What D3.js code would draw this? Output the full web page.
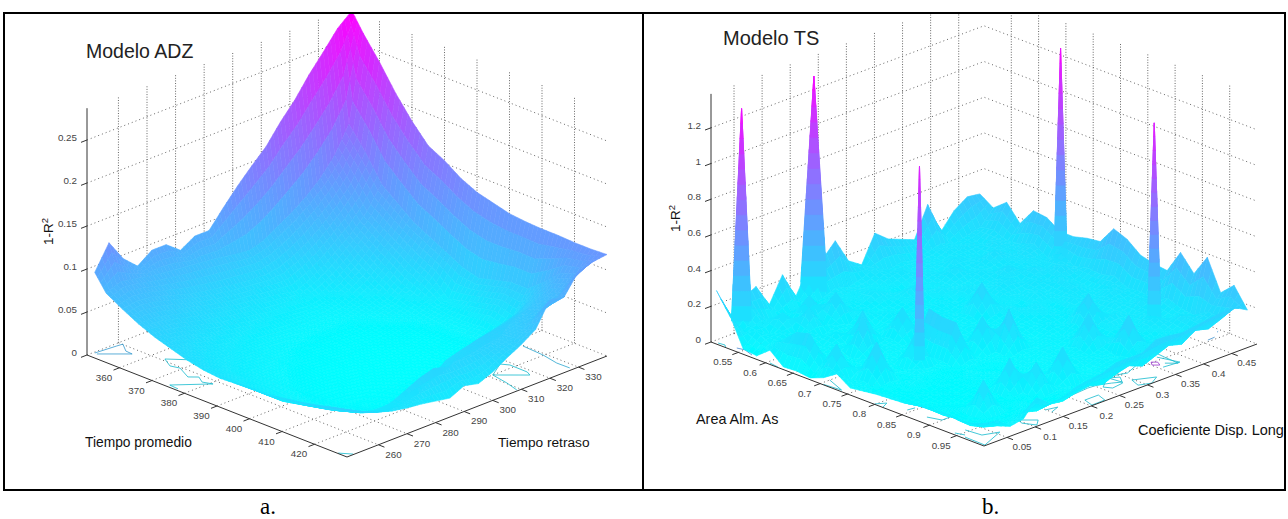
<!DOCTYPE html>
<html>
<head>
<meta charset="utf-8">
<script src="https://cdn.jsdelivr.net/npm/d3@7"></script>
<style>
    html, body { margin: 0; padding: 0; background: #fff; }
    svg { display: block; }
    text { font-family: "Liberation Sans", Arial, sans-serif; }
</style>
</head>
<body>
<div id="chart"></div>
<script>
//Data - Modelo ADZ
var adzPromedioTicks = [360, 370, 380, 390, 400, 410, 420];
var adzRetrasoTicks = [260, 270, 280, 290, 300, 310, 320, 330];
var adzZTicks = [0, 0.05, 0.1, 0.15, 0.2, 0.25];
var adzPromedioNodes = [351.5, 355, 360, 365, 370, 375, 380, 385, 390, 395, 400, 405, 410, 415, 420, 425, 430];
var adzRetrasoNodes = [250, 255, 260, 265, 270, 275, 280, 285, 290, 295, 300, 305, 310, 315, 320, 325, 330, 335, 340];
// rows follow Tiempo promedio, columns follow Tiempo retraso
var adzZ = [
    [.097, .125, .10, .085, .097, .097, .084, .094, .094, .114, .133, .15, .166, .188, .207, .23, .25, .271, .285],
    [.078, .085, .082, .078, .076, .074, .072, .07, .068, .065, .063, .068, .078, .088, .10, .115, .135, .165, .264],
    [.067, .07, .068, .063, .058, .053, .05, .047, .045, .043, .042, .045, .052, .062, .075, .09, .11, .14, .238],
    [.057, .058, .054, .05, .046, .042, .038, .035, .033, .03, .028, .024, .032, .042, .055, .068, .085, .11, .209],
    [.049, .047, .043, .038, .034, .03, .027, .024, .021, .019, .017, .016, .02, .028, .04, .055, .072, .095, .184],
    [.043, .038, .033, .028, .024, .02, .017, .015, .013, .012, .012, .012, .014, .019, .028, .042, .06, .08, .163],
    [.037, .032, .026, .022, .018, .015, .012, .01, .009, .008, .008, .008, .01, .014, .018, .03, .048, .07, .153],
    [.033, .027, .021, .017, .014, .011, .009, .007, .006, .005, .005, .005, .007, .01, .014, .022, .038, .06, .14],
    [.031, .024, .018, .013, .01, .008, .006, .005, .004, .003, .003, .003, .004, .007, .011, .017, .02, .05, .131],
    [.032, .021, .015, .011, .008, .006, .004, .003, .002, .002, .002, .003, .003, .005, .009, .014, .025, .045, .126],
    [.033, .02, .013, .009, .006, .004, .003, .002, .001, .001, .001, .002, .003, .004, .008, .014, .03, .05, .121],
    [.034, .02, .013, .008, .005, .003, .002, .001, .001, .001, .001, .001, .002, .004, .008, .016, .035, .055, .119],
    [.037, .024, .015, .009, .005, .003, .002, .002, .002, .002, .002, .003, .004, .006, .01, .012, .03, .055, .118],
    [.04, .028, .019, .012, .007, .004, .004, .004, .004, .006, .012, .022, .032, .036, .04, .045, .055, .07, .118],
    [.044, .032, .024, .016, .01, .006, .008, .012, .025, .038, .043, .047, .05, .052, .056, .062, .07, .088, .117],
    [.049, .038, .03, .026, .028, .036, .044, .049, .044, .046, .046, .05, .052, .056, .062, .07, .08, .095, .117],
    [.053, .045, .038, .033, .03, .028, .025, .022, .03, .026, .033, .043, .052, .063, .091, .088, .111, .116, .118]
];
var adzContours = [
    [[350.4, 251.3], [351, 258.3], [351.2, 260.2], [354.4, 257.6], [356.5, 257.4], [351.1, 251.2]],
    [[368.8, 266.1], [363.5, 260.9], [367, 258.7], [369.4, 259.5], [374.1, 256.9], [375.8, 258.8], [378.3, 257.1], [380.7, 258.2], [374.5, 250.1], [377.3, 249.8]],
    [[413.2, 329.7], [419.8, 329.2], [425.1, 328], [429, 328.1]],
    [[416.8, 317.6], [418.7, 318.9], [424.1, 318.8], [425.7, 317.9], [420, 311.4], [416.8, 317.6]],
    [[420, 311.4], [425.3, 310.3], [429.6, 308.9]],
    [[427.1, 249.2], [429.8, 251.4]]
];
var adzContourLevels = [0.25, 0.1, 0.2, 0.1, 0.1, 0.1];

//Data - Modelo TS
var tsAreaTicks = [0.55, 0.6, 0.65, 0.7, 0.75, 0.8, 0.85, 0.9, 0.95];
var tsCoefTicks = [0.05, 0.1, 0.15, 0.2, 0.25, 0.3, 0.35, 0.4, 0.45];
var tsZTicks = [0, 0.2, 0.4, 0.6, 0.8, 1, 1.2];
var tsAreaNodes = [0.51, 0.5345, 0.559, 0.5835, 0.608, 0.6325, 0.657, 0.6815, 0.706, 0.7305, 0.755, 0.7795, 0.804, 0.8285, 0.853, 0.8775, 0.902, 0.9265, 0.951, 0.9755, 1];
var tsCoefNodes = [0.009, 0.0325, 0.056, 0.0795, 0.103, 0.1265, 0.15, 0.1735, 0.197, 0.2205, 0.244, 0.2675, 0.291, 0.3145, 0.338, 0.3615, 0.385, 0.4085, 0.432, 0.4555, 0.478];
// rows follow Area Alm. As, columns follow Coeficiente Disp. Long
var tsZ = [
    [.30, .13, .20, .24, .11, .25, .10, .24, .25, .33, .19, .14, .29, .23, .20, .17, .34, .16, .25, .30, .29],
    [.19, .07, .14, .08, .08, .07, .07, .09, .12, .10, .12, .15, .11, .13, .11, .13, .15, .12, .14, .16, .24],
    [.03, .10, .06, .15, .07, .19, .08, .12, .09, .11, .09, .12, .14, .10, .12, .11, .13, .14, .12, .17, .30],
    [.02, .06, .09, .06, .18, .06, .21, .08, .09, .13, .10, .08, .11, .13, .10, .15, .12, .11, .16, .14, .21],
    [.08, .11, .05, .09, .05, .08, .06, .11, .07, .08, .11, .14, .09, .11, .16, .11, .13, .17, .13, .15, .31],
    [.015, .18, .06, .05, .10, .05, .07, .05, .10, .07, .09, .07, .12, .10, .11, .14, .11, .13, .15, .18, .30],
    [.02, .20, .04, .07, .04, .22, .05, .08, .06, .11, .07, .10, .08, .13, .10, .12, .17, .12, .14, .13, .25],
    [.01, .07, .04, .04, .24, .05, .07, .21, .06, .06, .09, .07, .10, .08, .12, .15, .11, .16, .13, .18, .25],
    [.04, .20, .03, .06, .04, .06, .05, .06, .05, .08, .06, .09, .24, .09, .11, .10, .14, .12, .17, .14, .27],
    [.09, .03, .08, .03, .05, .04, .06, .26, .06, .05, .08, .06, .09, .11, .08, .13, .11, .15, .12, .16, .28],
    [.04, .05, .24, .06, .03, .22, .05, .24, .05, .06, .05, .07, .06, .10, .12, .09, .11, .14, .11, .15, .38],
    [.05, .03, .05, .03, .06, .04, .05, .24, .04, .22, .06, .05, .08, .07, .10, .08, .13, .10, .12, .17, .35],
    [.06, .03, .03, .06, .03, .04, .03, .06, .04, .05, .26, .06, .05, .09, .07, .11, .09, .12, .15, .13, .29],
    [.065, .03, .04, .02, .04, .03, .05, .03, .04, .04, .06, .05, .07, .06, .10, .24, .08, .13, .11, .14, .27],
    [.07, .03, .02, .04, .02, .04, .04, .05, .03, .06, .04, .07, .05, .09, .07, .11, .13, .10, .15, .12, .26],
    [.085, .04, .03, .02, .04, .03, .04, .03, .05, .04, .06, .05, .08, .24, .07, .10, .08, .12, .11, .16, .39],
    [.09, .03, .04, .03, .02, .04, .21, .04, .03, .06, .04, .07, .06, .08, .11, .07, .11, .14, .10, .13, .30],
    [.10, .04, .02, .20, .04, .03, .05, .19, .04, .22, .05, .04, .07, .06, .26, .09, .08, .11, .15, .12, .42],
    [.09, .03, .04, .02, .03, .05, .02, .04, .05, .03, .05, .06, .05, .08, .07, .10, .12, .09, .14, .17, .25],
    [.10, .05, .03, .04, .05, .03, .04, .03, .05, .06, .04, .07, .09, .06, .09, .12, .10, .15, .13, .16, .32],
    [.118, .117, .056, .07, .16, .10, .106, .14, .15, .16, .19, .19, .19, .235, .23, .22, .23, .24, .25, .25, .21]
];
// the five tall narrow peaks
var tsPeakArea = [0.52, 0.511, 0.78, 0.667, 0.89];
var tsPeakCoef = [0.044, 0.1815, 0.108, 0.469, 0.419];
var tsPeakZ = [1.29, 1.30, 1.195, 1.30, 1.20];
var tsPeakBase = [0.018, 0.024, 0.009, 0.012, 0.012];
var tsContours = [
    [[.944, .03], [.9715, .033], [.9805, .056], [.9985, .012], [.961, .013]],
    [[.968, .101], [.986, .119], [.997, .106], [.979, .097], [.968, .101]],
    [[.968, .149], [.9725, .167], [.979, .15]],
    [[.957, .2], [.9535, .239], [.955, .255], [.963, .272], [.97, .284], [.9475, .281], [.943, .267]],
    [[.98, .208], [.98, .232], [.998, .226], [.9985, .2025], [.98, .208]],
    [[.942, .28], [.927, .313], [.929, .334], [.935, .354], [.953, .31], [.942, .28]],
    [[.974, .2975], [.989, .327], [.9995, .308], [.992, .291], [.974, .2975]],
    [[.915, .348], [.908, .385], [.948, .381], [.975, .379], [.963, .367]],
    [[.948, .357], [.954, .363], [.963, .358], [.956, .351], [.948, .357]],
    [[.946, .46], [.945, .473]],
    [[.935, .487], [.934, .49]],
    [[.509, .013], [.52, .0145], [.5255, .01]],
    [[.538, .018], [.55, .021], [.569, .015]],
    [[.6045, .0125], [.6215, .01]],
    [[.705, .01], [.735, .013], [.70, .026]],
    [[.799, .01], [.8076, .023], [.814, .01]],
    [[.843, .025], [.845, .037]],
    [[.878, .026], [.899, .0325], [.899, .047]],
    [[.942, .0135], [.956, .018]],
    [[.932, .246], [.927, .274], [.91, .315], [.915, .334], [.904, .362], [.915, .382], [.928, .357], [.928, .333]],
    [[.947, .28], [.956, .294], [.973, .282], [.976, .2615], [.965, .255], [.947, .28]],
    [[.941, .374], [.974, .383], [.971, .356]],
    [[.948, .177], [.94, .206], [.942, .227], [.962, .181], [.948, .177]]
];
var tsContourLevels = [.1, .1, .1, .1, .1, .1, .1, .1, .75, .3, .3, .1, .35, .1, .1, .1, .1, .1, .1, .1, .1, .1, .1];

//Setup
var width = 1288, height = 519;
var bands = 14; // slices per peak face, only for the colour ramp

var svg = d3.select("#chart").append("svg")
    .attr("width", width)
    .attr("height", height);

var defs = svg.append("defs");
defs.append("filter").attr("id", "soft")
    .append("feGaussianBlur").attr("stdDeviation", 0.45);

drawSurfacePanel({
    id: "adz",
    clip: [5, 14, 637, 475],
    origin: [87, 355],
    uDomain: [350, 430], uPx: [260, 102],
    vDomain: [249, 340], vPx: [260, -101],
    zPerUnit: 860, zTop: 0.287, colorMax: 0.285,
    uTicks: adzPromedioTicks, vTicks: adzRetrasoTicks, zTicks: adzZTicks,
    uNodes: adzPromedioNodes, vNodes: adzRetrasoNodes, z: adzZ,
    steps: 4,
    contours: adzContours, levels: adzContourLevels,
    peaks: []
});

drawSurfacePanel({
    id: "ts",
    clip: [645, 14, 640, 475],
    origin: [711, 342],
    uDomain: [0.5, 1], uPx: [273, 104],
    vDomain: [0.009, 0.495], vPx: [273, -102],
    zPerUnit: 178.5, zTop: 1.39, colorMax: 1.35,
    uTicks: tsAreaTicks, vTicks: tsCoefTicks, zTicks: tsZTicks,
    uNodes: tsAreaNodes, vNodes: tsCoefNodes, z: tsZ,
    steps: 3,
    contours: tsContours, levels: tsContourLevels,
    peaks: tsPeakArea.map(function (a, i) {
        return { u: a, v: tsPeakCoef[i], z: tsPeakZ[i], base: tsPeakBase[i] };
    })
});

//Frame
var frame = svg.append("g").attr("fill", "none").attr("stroke", "#000").attr("stroke-width", 2);
frame.append("rect").attr("x", 4).attr("y", 13).attr("width", 1281).attr("height", 477);
frame.append("line").attr("x1", 643).attr("x2", 643).attr("y1", 13).attr("y2", 490);

//Titles and captions
addText(86, 58, "Modelo ADZ", 19.5, "#222");
addText(723, 45, "Modelo TS", 20, "#222");
addText(85, 447, "Tiempo promedio", 13.8, "#111");
addText(498, 447, "Tiempo retraso", 13.7, "#111");
addText(696, 424, "Area Alm. As", 14.4, "#111");
addText(1138, 435, "Coeficiente Disp. Long", 14.5, "#111");
addZLabel(53, 245);
addZLabel(680, 232);
addText(260, 514, "a.", 23, "#000").style("font-family", "'Liberation Serif', serif");
addText(982, 514, "b.", 23, "#000").style("font-family", "'Liberation Serif', serif");

//Functions

function addText(x, y, label, size, color) {
    return svg.append("text")
        .attr("x", x).attr("y", y)
        .attr("font-size", size)
        .attr("fill", color)
        .text(label);
}

function addZLabel(x, y) {
    var t = svg.append("text")
        .attr("transform", `translate(${x}, ${y}) rotate(-90)`)
        .attr("font-size", 13.5)
        .attr("fill", "#111");
    t.append("tspan").text("1-R");
    t.append("tspan").attr("dy", -5).attr("font-size", 9.5).text("2");
}

function drawSurfacePanel(p) {
    var ux = d3.scaleLinear().domain(p.uDomain).range([0, p.uPx[0]]);
    var uy = d3.scaleLinear().domain(p.uDomain).range([0, p.uPx[1]]);
    var vx = d3.scaleLinear().domain(p.vDomain).range([0, p.vPx[0]]);
    var vy = d3.scaleLinear().domain(p.vDomain).range([0, p.vPx[1]]);
    var zy = d3.scaleLinear().domain([0, 1]).range([0, -p.zPerUnit]);
    var color = d3.scaleLinear().domain([0, p.colorMax]).range(["#00ffff", "#ff00ff"]).clamp(true);
    var uFrac = d3.scaleLinear().domain(p.uDomain).range([0, 1]);
    var vFrac = d3.scaleLinear().domain(p.vDomain).range([0, 1]);

    function proj(u, v, z) {
        return [p.origin[0] + ux(u) + vx(v), p.origin[1] + uy(u) + vy(v) + zy(z)];
    }
    function depth(u, v) { return uFrac(u) - vFrac(v); }

    var uMin = p.uDomain[0], uMax = p.uDomain[1], vMin = p.vDomain[0], vMax = p.vDomain[1];
    var line = d3.line();

    defs.append("clipPath").attr("id", "clip-" + p.id).append("rect")
        .attr("x", p.clip[0]).attr("y", p.clip[1])
        .attr("width", p.clip[2]).attr("height", p.clip[3]);
    var g = svg.append("g").attr("clip-path", `url(#clip-${p.id})`);

    //Grid on the floor and the two back walls
    var grid = [];
    p.uTicks.forEach(function (t) {
        grid.push({ dash: "1 3", pts: [proj(t, vMin, 0), proj(t, vMax, 0)] });
        grid.push({ dash: "1 1.6", pts: [proj(t, vMax, 0), proj(t, vMax, p.zTop)] });
    });
    p.vTicks.forEach(function (t) {
        grid.push({ dash: "1 3", pts: [proj(uMin, t, 0), proj(uMax, t, 0)] });
        grid.push({ dash: "1 1.6", pts: [proj(uMin, t, 0), proj(uMin, t, p.zTop)] });
    });
    p.zTicks.forEach(function (t) {
        grid.push({ dash: "1 3", pts: [proj(uMin, vMin, t), proj(uMin, vMax, t), proj(uMax, vMax, t)] });
    });
    g.append("g").selectAll("path").data(grid).join("path")
        .attr("d", d => line(d.pts))
        .attr("fill", "none")
        .attr("stroke", "#666")
        .attr("stroke-dasharray", d => d.dash);

    //Contours on the floor
    g.append("g").selectAll("path").data(p.contours).join("path")
        .attr("d", d => line(d.map(c => proj(c[0], c[1], 0))))
        .attr("fill", "none")
        .attr("stroke", (d, i) => d3.color(color(p.levels[i] * p.colorMax)).darker(0.6))
        .attr("stroke-opacity", 0.8)
        .attr("stroke-width", 1);

    //Axis lines and ticks
    var axes = g.append("g").attr("stroke", "#333").attr("fill", "none");
    axes.append("path").attr("d", line([proj(uMin, vMin, p.zTop), proj(uMin, vMin, 0), proj(uMax, vMin, 0), proj(uMax, vMax, 0)]));
    var tickU = 6 / p.uPx[0] * (uMax - uMin), tickV = 6 / p.vPx[0] * (vMax - vMin);
    axes.selectAll(".u").data(p.uTicks).join("path").attr("class", "u")
        .attr("d", t => line([proj(t, vMin, 0), proj(t, vMin - tickV, 0)]));
    axes.selectAll(".v").data(p.vTicks).join("path").attr("class", "v")
        .attr("d", t => line([proj(uMax, t, 0), proj(uMax + tickU, t, 0)]));
    axes.selectAll(".z").data(p.zTicks).join("path").attr("class", "z")
        .attr("d", t => line([proj(uMin, vMin, t), proj(uMin, vMin - tickV, t)]));

    //Tick labels
    var labels = g.append("g").attr("font-size", 9.8).attr("fill", "#444");
    labels.selectAll(".ul").data(p.uTicks).join("text").attr("class", "ul")
        .attr("text-anchor", "middle")
        .attr("x", t => proj(t, vMin, 0)[0] - 15.5)
        .attr("y", t => proj(t, vMin, 0)[1] + 13)
        .text(t => t);
    labels.selectAll(".vl").data(p.vTicks).join("text").attr("class", "vl")
        .attr("text-anchor", "middle")
        .attr("x", t => proj(uMax, t, 0)[0] + 15)
        .attr("y", t => proj(uMax, t, 0)[1] + 13)
        .text(t => t);
    labels.selectAll(".zl").data(p.zTicks).join("text").attr("class", "zl")
        .attr("text-anchor", "end")
        .attr("x", t => proj(uMin, vMin, t)[0] - 10)
        .attr("y", t => proj(uMin, vMin, t)[1] + 1)
        .text(t => t);

    //Surface, cut into small quads so the colour ramps across each grid cell
    var quads = [];
    var s = d3.range(p.steps + 1).map(k => k / p.steps);
    for (var i = 0; i < p.uNodes.length - 1; i++) {
        for (var j = 0; j < p.vNodes.length - 1; j++) {
            var z00 = p.z[i][j], z01 = p.z[i][j + 1], z10 = p.z[i + 1][j], z11 = p.z[i + 1][j + 1];
            var uAt = d3.interpolateNumber(p.uNodes[i], p.uNodes[i + 1]);
            var vAt = d3.interpolateNumber(p.vNodes[j], p.vNodes[j + 1]);
            var zAt = function (a, b) {
                return z00 * (1 - a) * (1 - b) + z01 * (1 - a) * b + z10 * a * (1 - b) + z11 * a * b;
            };
            for (var a = 0; a < p.steps; a++) {
                for (var b = 0; b < p.steps; b++) {
                    var a0 = s[a], a1 = s[a + 1], b0 = s[b], b1 = s[b + 1];
                    quads.push({
                        pts: [
                            proj(uAt(a0), vAt(b0), zAt(a0, b0)),
                            proj(uAt(a0), vAt(b1), zAt(a0, b1)),
                            proj(uAt(a1), vAt(b1), zAt(a1, b1)),
                            proj(uAt(a1), vAt(b0), zAt(a1, b0))
                        ],
                        z: zAt((a0 + a1) / 2, (b0 + b1) / 2),
                        d: depth(uAt((a0 + a1) / 2), vAt((b0 + b1) / 2))
                    });
                }
            }
        }
    }

    //Peaks as narrow four sided cones
    p.peaks.forEach(function (pk) {
        var w = pk.base, r = (vMax - vMin) / (uMax - uMin), zBase = 0.12;
        var corners = [[pk.u - w, pk.v], [pk.u, pk.v - w * r], [pk.u + w, pk.v], [pk.u, pk.v + w * r]];
        corners.forEach(function (c0, n) {
            var c1 = corners[(n + 1) % 4];
            for (var k = 0; k < bands; k++) {
                var t0 = k / bands, t1 = (k + 1) / bands;
                var at = function (c, t) { return [c[0] + (pk.u - c[0]) * t, c[1] + (pk.v - c[1]) * t, zBase + (pk.z - zBase) * t]; };
                var q0 = at(c0, t0), q1 = at(c1, t0), q2 = at(c1, t1), q3 = at(c0, t1);
                quads.push({
                    pts: [q0, q1, q2, q3].map(q => proj(q[0], q[1], q[2])),
                    z: zBase + (pk.z - zBase) * (t0 + t1) / 2,
                    d: depth((c0[0] + c1[0]) / 2, (c0[1] + c1[1]) / 2)
                });
            }
        });
    });

    quads.sort((q, r) => q.d - r.d);

    g.append("g").attr("filter", "url(#soft)")
        .selectAll("path").data(quads).join("path")
        .attr("d", d => line(d.pts) + "Z")
        .attr("fill", d => color(d.z))
        .attr("stroke", d => color(d.z))
        .attr("stroke-width", 0.6);
}
</script>
</body>
</html>
